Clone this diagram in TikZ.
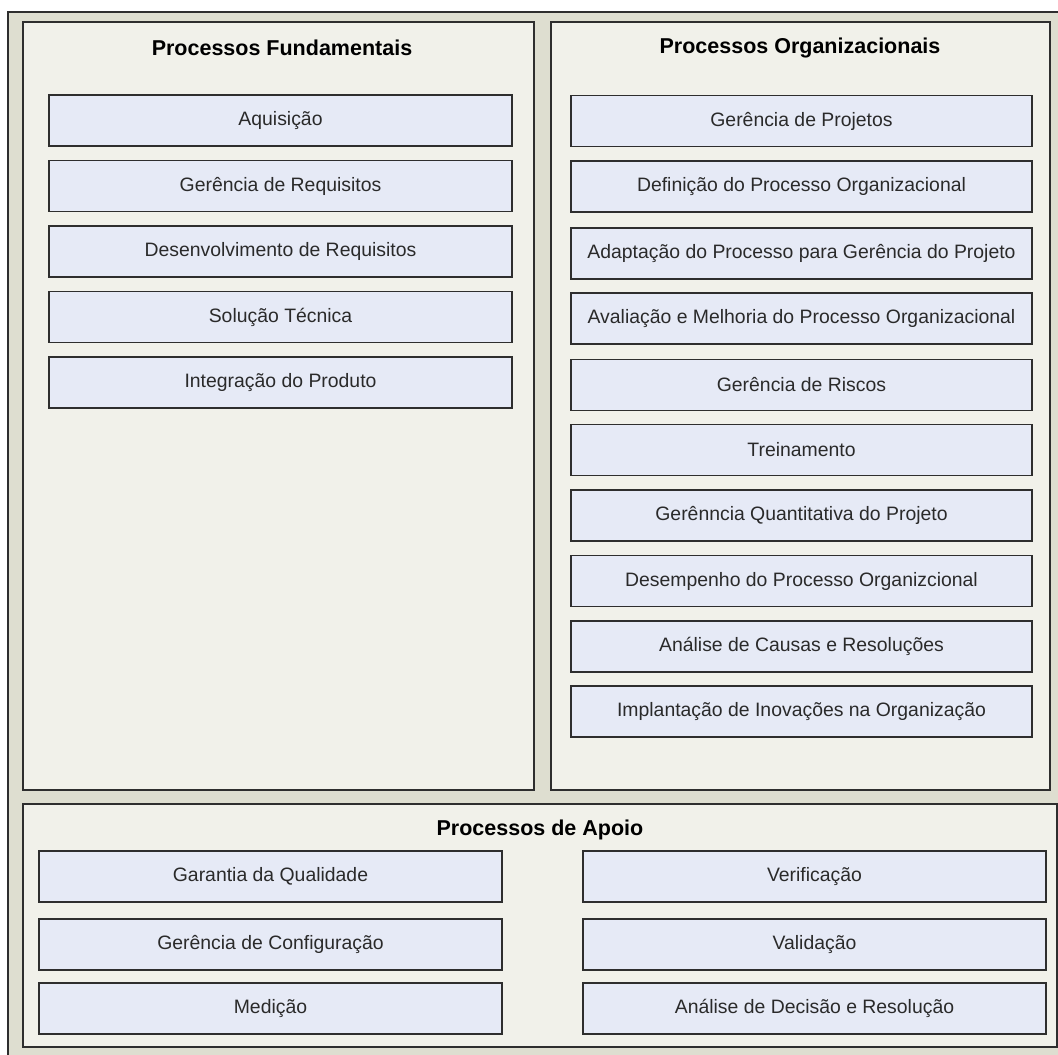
\documentclass[tikz,border=0pt]{standalone}
\usepackage{fontspec}
\setmainfont{Liberation Sans}
\definecolor{outerfill}{HTML}{DEDED0}
\definecolor{panelfill}{HTML}{F1F1EA}
\definecolor{boxfill}{HTML}{E6EAF6}
\definecolor{edge}{HTML}{2E2E2E}
\definecolor{txt}{HTML}{2A2A2A}
\begin{document}
\begin{tikzpicture}[x=1pt,y=-1pt,
  panel/.style={draw=edge,line width=1.6pt,fill=panelfill},
  procbox/.style={draw=edge,line width=1.6pt,fill=boxfill,inner sep=0pt,
    font=\fontsize{19.4}{22}\selectfont,text=txt},
  ptitle/.style={font=\fontsize{21.5}{25}\selectfont\bfseries,text=black,inner sep=0pt}]
\useasboundingbox (0,0) rectangle (1058,1055);
\fill[white] (0,0) rectangle (1058,1055);
% outer frame
\filldraw[fill=outerfill,draw=edge,line width=1.6pt] (8,12) rectangle (1075,1075);
% panels
\draw[panel] (23,22) rectangle (534,790);
\draw[panel] (551,22) rectangle (1050,790);
\draw[panel] (23,804) rectangle (1057,1047);
% titles
\node[ptitle] (tf) at (282,48) {Processos Fundamentais};
\node[ptitle] (to) at (800,48) {Processos Organizacionais};
\node[ptitle] (ta) at (540,830) {Processos de Apoio};
% left boxes
\newcommand{\lbox}[3]{\node[procbox,minimum width=463pt,minimum height=51pt] (#1) at (280.5,#2) {#3};}
\lbox{f1}{120.5}{Aquisição}
\lbox{f2}{186}{Gerência de Requisitos}
\lbox{f3}{251.5}{Desenvolvimento de Requisitos}
\lbox{f4}{317}{Solução Técnica}
\lbox{f5}{382.5}{Integração do Produto}
% right boxes
\newcommand{\rbox}[3]{\node[procbox,minimum width=461pt,minimum height=51pt] (#1) at (801.5,#2) {#3};}
\rbox{o1}{121}{Gerência de Projetos}
\rbox{o2}{186.5}{Definição do Processo Organizacional}
\rbox{o3}{253.5}{Adaptação do Processo para Gerência do Projeto}
\rbox{o4}{318.5}{Avaliação e Melhoria do Processo Organizacional}
\rbox{o5}{385}{Gerência de Riscos}
\rbox{o6}{450}{Treinamento}
\rbox{o7}{515.5}{Gerênncia Quantitativa do Projeto}
\rbox{o8}{581}{Desempenho do Processo Organizcional}
\rbox{o9}{646.5}{Análise de Causas e Resoluções}
\rbox{o10}{711.5}{Implantação de Inovações na Organização}
% bottom boxes
\newcommand{\abox}[4]{\node[procbox,minimum width=463pt,minimum height=51pt] (#1) at (#2,#3) {#4};}
\abox{a1}{270.5}{876.5}{Garantia da Qualidade}
\abox{a2}{270.5}{944.5}{Gerência de Configuração}
\abox{a3}{270.5}{1008.5}{Medição}
\abox{a4}{814.5}{876.5}{Verificação}
\abox{a5}{814.5}{944.5}{Validação}
\abox{a6}{814.5}{1008.5}{Análise de Decisão e Resolução}
\end{tikzpicture}
\end{document}
